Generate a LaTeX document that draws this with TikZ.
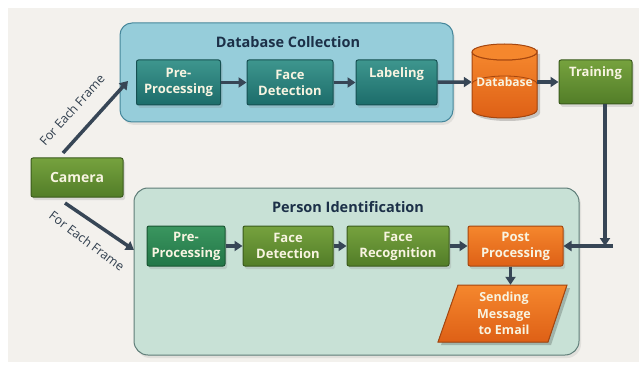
\documentclass[tikz,border=0pt]{standalone}
\usepackage{fontspec}
\setmainfont{Open Sans}
\usetikzlibrary{arrows.meta,shadows,shapes.geometric}
\definecolor{bgc}{RGB}{243,241,237}
\definecolor{dbcfill}{RGB}{150,205,218}
\definecolor{dbcdraw}{RGB}{70,135,155}
\definecolor{pidfill}{RGB}{200,225,214}
\definecolor{piddraw}{RGB}{95,125,120}
\definecolor{tealT}{RGB}{62,150,142}
\definecolor{tealB}{RGB}{28,108,106}
\definecolor{tealD}{RGB}{22,80,82}
\definecolor{grnT}{RGB}{118,162,62}
\definecolor{grnB}{RGB}{82,125,40}
\definecolor{grnD}{RGB}{58,90,28}
\definecolor{sgrT}{RGB}{58,150,95}
\definecolor{sgrB}{RGB}{35,118,72}
\definecolor{sgrD}{RGB}{25,85,50}
\definecolor{orgT}{RGB}{245,135,45}
\definecolor{orgB}{RGB}{222,96,22}
\definecolor{orgD}{RGB}{165,70,15}
\definecolor{arr}{RGB}{55,70,86}
\definecolor{ttl}{RGB}{28,48,72}
\definecolor{txt}{RGB}{248,244,225}
\tikzset{
  boxbase/.style={rectangle, rounded corners=2pt, line width=1pt, align=center,
    text=txt, font=\fontsize{13}{16}\selectfont\bfseries, inner sep=1pt,
    drop shadow={opacity=0.22, shadow xshift=2pt, shadow yshift=-3pt}},
  tealbox/.style={boxbase, draw=tealD, top color=tealT, bottom color=tealB},
  grnbox/.style={boxbase, draw=grnD, top color=grnT, bottom color=grnB},
  sgrbox/.style={boxbase, draw=sgrD, top color=sgrT, bottom color=sgrB},
  orgbox/.style={boxbase, draw=orgD, top color=orgT, bottom color=orgB},
  flow/.style={draw=arr, line width=3.5pt, -{Triangle[length=8pt,width=10pt]}},
  flowlbl/.style={text=arr!90!black, font=\fontsize{12.5}{14}\selectfont, inner sep=0pt},
  grouptitle/.style={text=ttl, font=\fontsize{14.5}{17}\selectfont\bfseries},
}
\begin{document}
\begin{tikzpicture}[x=1pt,y=-1pt]
\useasboundingbox (0,0) rectangle (639,366);
\fill[white] (0,0) rectangle (639,366);
\fill[bgc] (8,8) rectangle (639,362);

% group boxes
\node[draw=dbcdraw, fill=dbcfill, line width=1pt, rounded corners=12pt,
  minimum width=333pt, minimum height=99pt, inner sep=0pt,
  drop shadow={opacity=0.15, shadow xshift=2pt, shadow yshift=-3pt}] (dbc) at (286.5,72.5) {};
\node[grouptitle] (dbct) at (288,42) {Database Collection};
\node[draw=piddraw, fill=pidfill, line width=1pt, rounded corners=14pt,
  minimum width=445pt, minimum height=167pt, inner sep=0pt,
  drop shadow={opacity=0.15, shadow xshift=2pt, shadow yshift=-3pt}] (pid) at (356.5,271.5) {};
\node[grouptitle] (pidt) at (348,207) {Person Identification};

% top row
\node[tealbox, minimum width=84pt, minimum height=45pt] (tpre) at (178.5,82.5) {Pre-\\Processing};
\node[tealbox, minimum width=86pt, minimum height=45pt] (tfd) at (290,82.5) {Face\\Detection};
\node[tealbox, minimum width=81pt, minimum height=45pt] (tlab) at (396.5,82.5) {Labeling\\[4pt]};

% database cylinder
\begin{scope}
\fill[black, opacity=0.18] (475,54) -- (475,113) arc[start angle=180,end angle=360,x radius=32.5pt,y radius=8pt] -- (540,54) -- cycle;
\fill[top color=orgT, bottom color=orgB, draw=orgD, line width=1pt]
  (472,52) -- (472,110) arc[start angle=180,end angle=360,x radius=32.5pt,y radius=8pt] -- (537,52)
  arc[start angle=0,end angle=180,x radius=32.5pt,y radius=-8pt];
\draw[orgD, line width=0.8pt] (472,84) arc[start angle=180,end angle=360,x radius=32.5pt,y radius=-8pt];
\fill[orgT, draw=orgD, line width=1pt] (504.5,52) ellipse[x radius=32.5pt, y radius=8pt];
\end{scope}
\node[minimum width=65pt, minimum height=72pt, inner sep=0pt, text=txt,
  font=\fontsize{12}{14}\selectfont\bfseries] (db) at (504.5,82) {Database};

\node[grnbox, minimum width=73pt, minimum height=44pt] (train) at (595.5,82) {Training\\[4pt]};

% camera
\node[grnbox, minimum width=92pt, minimum height=39pt, font=\fontsize{14}{16}\selectfont\bfseries] (cam) at (77,177.5) {Camera};

% bottom row
\node[sgrbox, minimum width=78pt, minimum height=40pt] (bpre) at (186,246) {Pre-\\Processing};
\node[grnbox, minimum width=90pt, minimum height=40pt] (bfd) at (288,246) {Face\\Detection};
\node[grnbox, minimum width=102pt, minimum height=40pt] (bfr) at (398,246) {Face\\Recognition};
\node[orgbox, minimum width=95pt, minimum height=40pt] (post) at (515.5,246) {Post\\Processing};

% sending parallelogram
\fill[black, opacity=0.2] (461,288) -- (570,288) -- (551,345) -- (441,345) -- cycle;
\filldraw[draw=orgD, line width=1pt, top color=orgT, bottom color=orgB]
  (458,285) -- (567,285) -- (548,342) -- (438,342) -- cycle;
\node[align=center, text=txt, inner sep=0pt, minimum width=100pt, minimum height=57pt,
  font=\fontsize{12.5}{16.5}\selectfont\bfseries] (send) at (504,313.5) {Sending\\Message\\to Email};

% connectors
\coordinate (c1) at (63,153);
\coordinate (c2) at (128,81);
\coordinate (c3) at (65,203);
\coordinate (c4) at (134,250);
\draw[flow] (c1) -- (c2);
\draw[flow] (c3) -- (c4);
\node[flowlbl, rotate=48] (lbl1) at (72,110) {For Each Frame};
\node[flowlbl, rotate=-37] (lbl2) at (87,241) {For Each Frame};

\draw[flow] (tpre) -- (tfd);
\draw[flow] (tfd) -- (tlab);
\draw[flow] (tlab) -- (db.west);
\draw[flow] (db.east) -- (train);
\draw[flow] (bpre) -- (bfd);
\draw[flow] (bfd) -- (bfr);
\draw[flow] (bfr) -- (post);
\draw[flow] (post.south) ++(-5pt,0) coordinate (ps) -- (ps |- send.north);

\coordinate (tr1) at (605,104);
\coordinate (tr2) at (605,246);
\coordinate (tr3) at (613,246);
\draw[flow] (tr1) -- (tr2);
\draw[flow] (tr3) -- (post.east);
\end{tikzpicture}
\end{document}
